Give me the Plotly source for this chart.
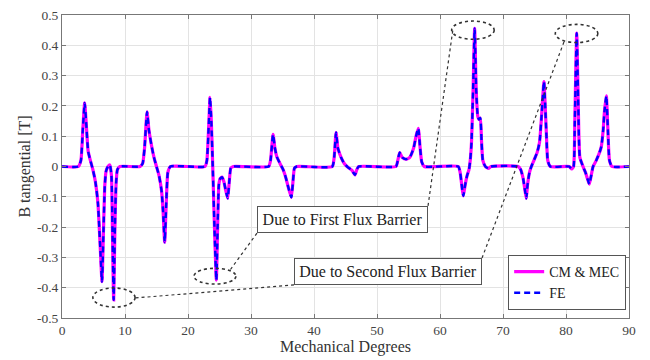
import plotly.graph_objects as go

# Mechanical degrees and B tangential [T]
deg = [0, 2.6, 3.0, 3.3, 3.6, 3.85, 4.15, 4.5, 4.9, 5.3, 5.7, 6.1, 6.35, 6.6, 6.8, 7.0, 7.3, 7.6, 7.85, 8.0, 8.2, 8.4, 8.6, 8.8, 9.2,
       12.4, 12.8, 13.1, 13.5, 13.8, 14.2, 14.6, 15.0, 15.4, 15.8, 16.05, 16.3, 16.55, 16.8, 17.2,
       22.7, 23.0, 23.3, 23.5, 23.7, 23.9, 24.2, 24.5, 24.7, 24.9, 25.1, 25.4, 25.7, 26.0, 26.3, 26.55, 26.8, 27.2,
       32.8, 33.1, 33.5, 33.8, 34.1, 34.6, 35.1, 35.5, 35.9, 36.4, 36.7, 36.9, 37.3,
       42.9, 43.2, 43.5, 43.8, 44.3, 44.8, 45.4, 46.0, 46.5, 46.8, 47.1,
       53.0, 53.3, 53.6, 54.0, 54.6, 55.2, 55.8, 56.2, 56.55, 56.85, 57.1, 57.5,
       62.9, 63.2, 63.5, 63.7, 64.0, 64.3, 64.6, 64.8, 65.0, 65.25, 65.5, 65.75, 66.0, 66.2, 66.4, 66.6, 66.8, 67.2, 67.7, 68.1,
       72.4, 72.8, 73.2, 73.5, 73.7, 73.9, 74.2, 74.5, 75.0, 75.4, 75.8, 76.1, 76.5, 76.7, 76.9, 77.1, 77.5,
       80.5, 80.9, 81.2, 81.4, 81.7, 81.95, 82.2, 82.7, 83.1, 83.4, 83.7, 84.0, 84.3, 84.8, 85.3, 85.6, 85.9, 86.1, 86.4, 86.65, 86.9, 87.3, 90]
b_cm = [0, 0, 0.02, 0.12, 0.21, 0.14, 0.05, 0.02, -0.01, -0.05, -0.12, -0.28, -0.38, -0.2, -0.06, -0.015, 0.0, 0.005, -0.03, -0.2, -0.44, -0.2, -0.05, -0.01, 0,
        0, 0.01, 0.06, 0.18, 0.12, 0.07, 0.03, 0.0, -0.03, -0.08, -0.15, -0.25, -0.12, -0.02, 0,
        0, 0.02, 0.14, 0.228, 0.15, 0.02, -0.2, -0.375, -0.2, -0.06, -0.04, -0.035, -0.05, -0.08, -0.105, -0.05, -0.005, 0,
        0, 0.02, 0.106, 0.06, 0.032, 0.01, -0.01, -0.035, -0.067, -0.102, -0.04, -0.005, 0,
        0, 0.03, 0.112, 0.06, 0.03, 0.01, -0.003, -0.012, -0.028, -0.01, 0,
        0, 0.02, 0.046, 0.03, 0.024, 0.03, 0.06, 0.1, 0.126, 0.06, 0.015, 0,
        0, -0.02, -0.07, -0.097, -0.06, -0.03, -0.01, 0.02, 0.08, 0.25, 0.456, 0.25, 0.165, 0.155, 0.16, 0.08, 0.02, 0.0, -0.006, 0,
        0, -0.01, -0.04, -0.08, -0.105, -0.06, -0.02, 0.0, 0.025, 0.045, 0.08, 0.16, 0.28, 0.2, 0.1, 0.02, 0,
        0, -0.008, 0.0, 0.15, 0.44, 0.2, 0.03, 0.0, -0.02, -0.04, -0.058, -0.03, 0, 0.02, 0.045, 0.065, 0.12, 0.18, 0.233, 0.12, 0.02, 0, 0]
b_fe = list(b_cm)

x_ticks = [0, 10, 20, 30, 40, 50, 60, 70, 80, 90]
y_ticks = [-0.5, -0.4, -0.3, -0.2, -0.1, 0, 0.1, 0.2, 0.3, 0.4, 0.5]
y_tick_text = ["-0.5", "-0.4", "-0.3", "-0.2", "-0.1", "0", "0.1", "0.2", "0.3", "0.4", "0.5"]

SERIF = "Liberation Serif"

fig = go.Figure()
fig.add_trace(go.Scatter(x=deg, y=b_cm, mode="lines", name="CM & MEC",
                         line=dict(color="#ff00ff", width=3.2, shape="spline", smoothing=0.5)))
fig.add_trace(go.Scatter(x=deg, y=b_fe, mode="lines", name="FE",
                         line=dict(color="#0000ff", width=2.4, dash="6px,4px", shape="spline", smoothing=0.5)))

# ellipses
dot_line = dict(color="#333333", width=1.6, dash="dot")
for x0, x1, y0, y1 in [(4.9, 11.6, -0.464, -0.401), (20.95, 27.6, -0.388, -0.336),
                       (61.85, 68.6, 0.42, 0.48), (78.3, 85.05, 0.409, 0.469)]:
    fig.add_shape(type="circle", xref="x", yref="y", x0=x0, x1=x1, y0=y0, y1=y1, line=dot_line)

# connector lines
thin = dict(color="#333333", width=1.2, dash="dot")
for x0, y0, x1, y1 in [(30.95, -0.22, 26.67, -0.342), (58.1, -0.13, 62.06, 0.454),
                       (36.83, -0.391, 11.59, -0.434), (66.67, -0.302, 79.68, 0.411)]:
    fig.add_shape(type="line", xref="x", yref="y", x0=x0, y0=y0, x1=x1, y1=y1, line=thin)

fig.add_annotation(x=44.5, y=-0.175, xref="x", yref="y", text="Due to First Flux Barrier",
                   showarrow=False, font=dict(family=SERIF, size=16, color="#222"),
                   bgcolor="white", bordercolor="#555", borderwidth=1, borderpad=0,
                   width=169, height=25)
fig.add_annotation(x=51.75, y=-0.348, xref="x", yref="y", text="Due to Second Flux Barrier",
                   showarrow=False, font=dict(family=SERIF, size=16, color="#222"),
                   bgcolor="white", bordercolor="#555", borderwidth=1, borderpad=0,
                   width=186, height=25)

fig.update_layout(
    width=650, height=360,
    margin=dict(l=62, r=21, t=15, b=42),
    paper_bgcolor="white", plot_bgcolor="white",
    font=dict(family=SERIF, size=13, color="#444"),
    showlegend=True,
    legend=dict(x=0.995, y=0.208, xanchor="right", yanchor="top",
                bgcolor="white", bordercolor="#555", borderwidth=1,
                font=dict(family=SERIF, size=14, color="#222"),
                itemwidth=30, tracegroupgap=0),
)
fig.update_xaxes(range=[0, 90], tickvals=x_ticks, showgrid=True, gridcolor="#e3e3e3",
                 zeroline=False, showline=True, linecolor="#777", linewidth=1, mirror="ticks",
                 ticks="inside", ticklen=4, tickcolor="#777", automargin=False,
                 title=dict(text="Mechanical Degrees", font=dict(family=SERIF, size=16, color="#333"), standoff=3),
                 tickfont=dict(family=SERIF, size=13.5, color="#444"))
fig.update_yaxes(range=[-0.5, 0.5], tickvals=y_ticks, ticktext=y_tick_text, showgrid=True, gridcolor="#e3e3e3",
                 zeroline=False, showline=True, linecolor="#777", linewidth=1, mirror="ticks",
                 ticks="inside", ticklen=4, tickcolor="#777", automargin=False,
                 title=dict(text="B tangential [T]", font=dict(family=SERIF, size=16, color="#333"), standoff=2),
                 tickfont=dict(family=SERIF, size=13.5, color="#444"))

fig.write_html("out.html")
